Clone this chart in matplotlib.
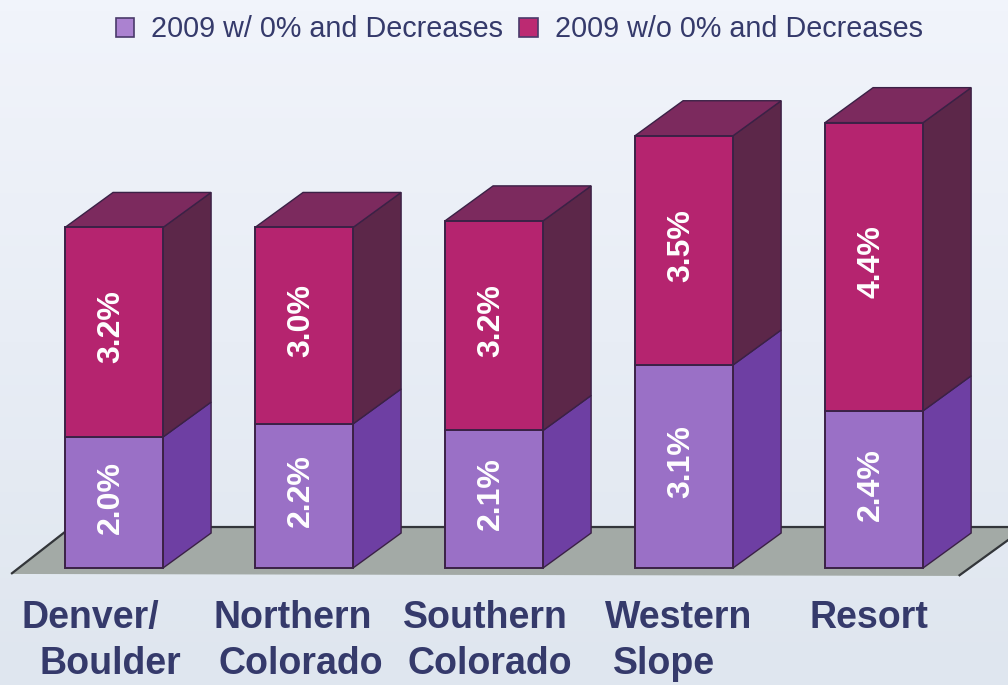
import numpy as np
import matplotlib.pyplot as plt
from matplotlib.patches import Patch

plt.rcParams['font.family'] = ['Liberation Sans', 'DejaVu Sans']

lower = [2.0, 2.2, 2.1, 3.1, 2.4]
upper = [3.2, 3.0, 3.2, 3.5, 4.4]
names_top = ["Denver/", "Northern", "Southern", "Western", "Resort"]
names_bottom = ["Boulder", "Colorado", "Colorado", "Slope", ""]
legend_names = ["2009 w/ 0% and Decreases", "2009 w/o 0% and Decreases"]

x = np.arange(5)
width = 0.516
dx = 0.253
dy = 0.534
edge = "#3b2146"

fig = plt.figure(figsize=(10.08, 6.85), dpi=100)
ax = fig.add_axes([0, 0, 1, 1])
ax.axis("off")

# paper background, slightly darker towards the bottom
grad = np.linspace(0, 1, 64).reshape(-1, 1)
ax.imshow(grad, extent=(-0.6, 4.705, -1.786, 8.672), aspect="auto", zorder=0,
          cmap=plt.cm.colors.LinearSegmentedColormap.from_list("bg", ["#f1f4fb", "#dfe6ef"]))

# floor
ax.fill([-0.537, -0.225, 4.8, 4.45], [-0.08, 0.626, 0.626, -0.11], color="#a3aaa6", zorder=1)
ax.plot([-0.537, -0.225, 4.8], [-0.08, 0.626, 0.626], color="#33363a", lw=1.6, zorder=1)
ax.plot([4.45, 4.8], [-0.11, 0.626], color="#33363a", lw=1.6, zorder=1)


def side(xc, y0, y1, color):
    r = xc + width / 2
    ax.fill([r, r + dx, r + dx, r], [y0, y0 + dy, y1 + dy, y1], facecolor=color,
            edgecolor=edge, lw=1.0, zorder=2)


for i in x:
    total = lower[i] + upper[i]
    side(i, 0, lower[i], "#6e3fa3")
    side(i, lower[i], total, "#5c2749")
    l = i - width / 2
    r = i + width / 2
    ax.fill([l, r, r + dx, l + dx], [total, total, total + dy, total + dy],
            facecolor="#7c2a5e", edgecolor=edge, lw=1.0, zorder=2)

ax.bar(x, lower, width, color="#9a70c6", edgecolor=edge, lw=1.4, zorder=3)
ax.bar(x, upper, width, bottom=lower, color="#b5246f", edgecolor=edge, lw=1.4, zorder=3)

for i in x:
    ax.text(i - 0.015, lower[i] / 2 + 0.08, f"{lower[i]:.1f}%", rotation=90, color="white",
            fontsize=23, fontweight="bold", ha="center", va="center", zorder=4)
    ax.text(i - 0.015, lower[i] + upper[i] / 2 + 0.08, f"{upper[i]:.1f}%", rotation=90, color="white",
            fontsize=23, fontweight="bold", ha="center", va="center", zorder=4)

# category names sit off-centre in the original
top_shift = [-0.127, -0.06, -0.047, -0.026, -0.026]
bottom_shift = [-0.02, -0.015, -0.02, -0.105, 0]
for i in x:
    ax.text(i + top_shift[i], -0.77, names_top[i], color="#353a6b", fontsize=27,
            fontweight="bold", ha="center", va="center", zorder=4)
    ax.text(i + bottom_shift[i], -1.47, names_bottom[i], color="#353a6b", fontsize=27,
            fontweight="bold", ha="center", va="center", zorder=4)

handles = [Patch(facecolor="#ab82d0", edgecolor="#4a3a6a", lw=1.2),
           Patch(facecolor="#bc2a72", edgecolor="#4a3a6a", lw=1.2)]
ax.legend(handles, legend_names, ncol=2, frameon=False, loc="center",
          bbox_to_anchor=(0.515, 0.957), fontsize=20.7, labelcolor="#353a6b",
          handlelength=0.65, handleheight=0.65, handletextpad=0.59, columnspacing=0.55)

ax.set_xlim(-0.6, 4.705)
ax.set_ylim(-1.786, 8.672)

fig.savefig("out.png", dpi=100)
